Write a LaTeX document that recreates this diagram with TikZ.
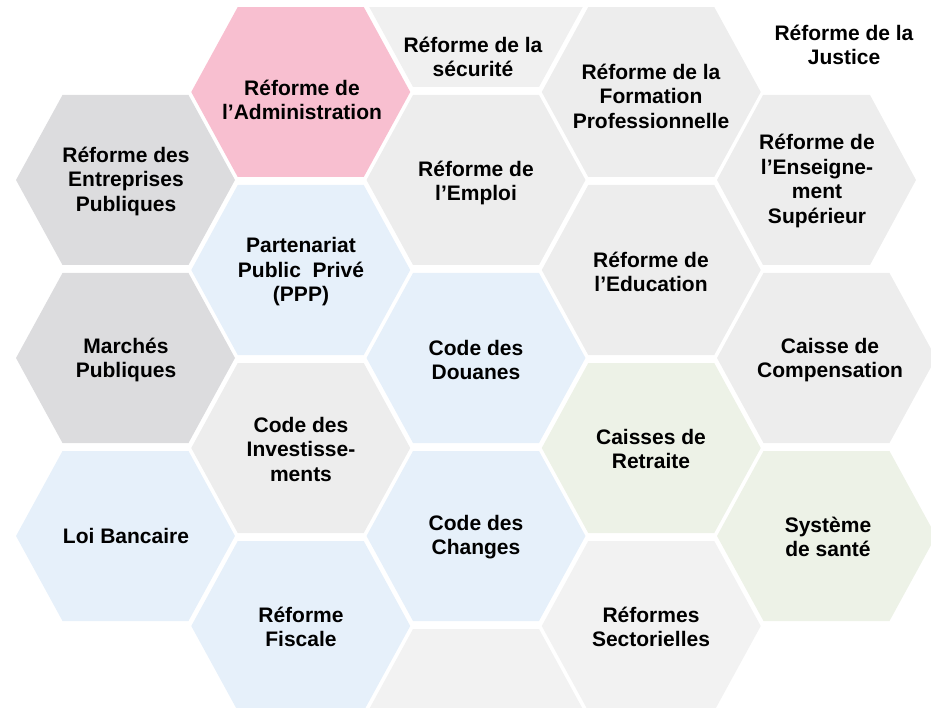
\documentclass[tikz,border=0pt]{standalone}
\usepackage{fontspec}
\setmainfont{Liberation Sans}
\definecolor{hpink}{HTML}{F8BFD0}
\definecolor{hdgray}{HTML}{DCDCDE}
\definecolor{hlgray}{HTML}{EDEDED}
\definecolor{hsgray}{HTML}{F0F0F0}
\definecolor{hvgray}{HTML}{F2F2F2}
\definecolor{hblue}{HTML}{E6F0FA}
\definecolor{hgreen}{HTML}{EDF2E7}
\newcommand{\hexcell}[3]{%
  \fill[#3] ({#1-109.5},{#2}) -- ({#1-63},{#2-85}) -- ({#1+63},{#2-85}) --
    ({#1+109.5},{#2}) -- ({#1+63},{#2+85}) -- ({#1-63},{#2+85}) -- cycle;}
\tikzset{
  lbl/.style={align=center, text=black, inner sep=0pt,
    font=\fontsize{21}{24.5}\selectfont\bfseries}
}
\begin{document}
\begin{tikzpicture}[x=1pt,y=-1pt]
\useasboundingbox (0,0) rectangle (931,708);
\begin{scope}
\clip (0,8) rectangle (931,708);
% column 1 (x=125.5)
\hexcell{125.5}{180}{hdgray}
\hexcell{125.5}{358}{hdgray}
\hexcell{125.5}{536}{hblue}
% column 2 (x=300.75)
\hexcell{300.75}{92}{hpink}
\hexcell{300.75}{270}{hblue}
\hexcell{300.75}{448}{hlgray}
\hexcell{300.75}{626}{hblue}
% column 3 (x=476)
\hexcell{476}{2}{hsgray}
\hexcell{476}{180}{hlgray}
\hexcell{476}{358}{hblue}
\hexcell{476}{536}{hblue}
\hexcell{476}{714}{hvgray}
% column 4 (x=651.25)
\hexcell{651.25}{92}{hlgray}
\hexcell{651.25}{270}{hlgray}
\hexcell{651.25}{448}{hgreen}
\hexcell{651.25}{626}{hvgray}
% column 5 (x=826.5)
\fill[hlgray] (717,180) -- (763,95) -- (870,95) -- (916,180) -- (870,265) -- (763,265) -- cycle;
\hexcell{826.5}{358}{hlgray}
\hexcell{826.5}{536}{hgreen}
\end{scope}
% labels
\node[lbl] (adm) at (302,100) {Réforme de\\l’Administration};
\node[lbl] (sec) at (473,57) {Réforme de la\\sécurité};
\node[lbl] (form) at (651,96) {Réforme de la\\Formation\\Professionnelle};
\node[lbl] (just) at (844,45) {Réforme de la\\Justice};
\node[lbl] (entr) at (126,181) {Réforme des\\Entreprises\\Publiques};
\node[lbl] (empl) at (476,183) {Réforme de\\l’Emploi};
\node[lbl] (ens) at (817,181) {Réforme de\\l’Enseigne-\\ment\\Supérieur};
\node[lbl] (ppp) at (301,272) {Partenariat\\Public\ \ Privé\\(PPP)};
\node[lbl] (educ) at (651,272) {Réforme de\\l’Education};
\node[lbl] (march) at (126,360) {Marchés\\Publiques};
\node[lbl] (doua) at (476,360) {Code des\\Douanes};
\node[lbl] (comp) at (830,360) {Caisse de\\Compensation};
\node[lbl] (inv) at (301,449) {Code des\\Investisse-\\ments};
\node[lbl] (retr) at (651,449) {Caisses de\\Retraite};
\node[lbl] (loi) at (126,536) {Loi Bancaire};
\node[lbl] (chg) at (476,537) {Code des\\Changes};
\node[lbl] (sante) at (828,537) {Système\\de santé};
\node[lbl] (fisc) at (301,627) {Réforme\\Fiscale};
\node[lbl] (sect) at (651,627) {Réformes\\Sectorielles};
\end{tikzpicture}
\end{document}
